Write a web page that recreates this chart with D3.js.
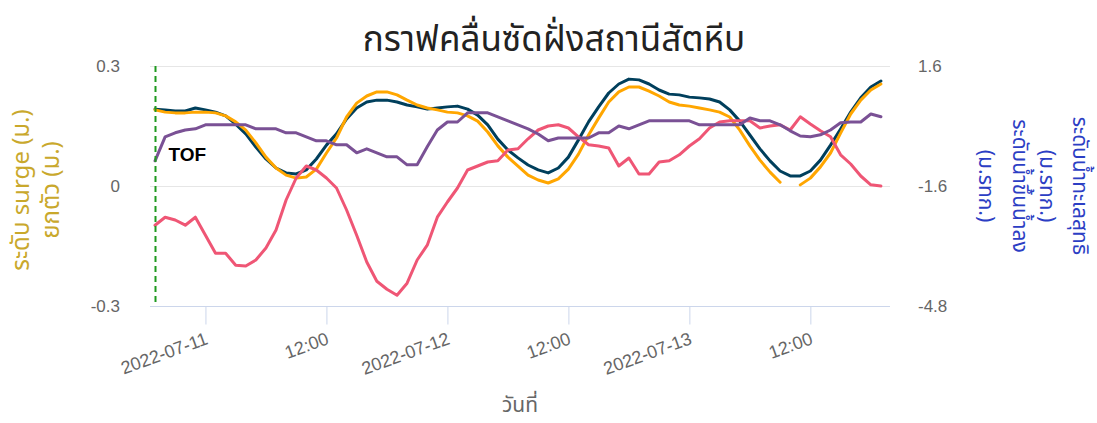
<!DOCTYPE html>
<html>
<head>
<meta charset="utf-8">
<script src="https://cdn.jsdelivr.net/npm/d3@7"></script>
<style>
  html, body { margin: 0; padding: 0; background: #ffffff; }
  svg { display: block; font-family: "Noto Sans Thai", "Noto Sans", "Open Sans", sans-serif; }
</style>
</head>
<body>
<svg id="chart" width="1097" height="423"></svg>
<script>
// Hourly observations, 2022-07-10 19:00 to 2022-07-13 19:00
const firstHour = new Date(2022, 6, 10, 19);
const lastHour = new Date(2022, 6, 13, 19);

// ระดับน้ำทะเลสุทธิ (ม.รทก.) – right axis
const netSeaLevel = [
  0.43, 0.37, 0.35, 0.35, 0.37,
  0.37, 0.35, 0.27, 0.11, -0.11,
  -0.45, -0.83, -1.12, -1.31, -1.39,
  -1.36, -1.15, -0.72, -0.32, 0.24,
  0.61, 0.80, 0.91, 0.91, 0.83,
  0.69, 0.56, 0.48, 0.43, 0.37,
  0.35, 0.27, 0.13, -0.16, -0.53,
  -0.83, -1.07, -1.31, -1.44, -1.52,
  -1.41, -1.15, -0.75, -0.24, 0.21,
  0.64, 0.91, 1.04, 1.04, 0.93,
  0.80, 0.64, 0.56, 0.53, 0.48,
  0.43, 0.37, 0.24, -0.11, -0.53,
  -0.91, -1.23, -1.50, null, -1.57,
  -1.39, -1.09, -0.72, -0.19, 0.32,
  0.69, 0.96, 1.12
];

// ระดับน้ำขึ้นน้ำลง (ม.รทก.) – right axis
const tideLevel = [
  0.45, 0.43, 0.40, 0.40, 0.48,
  0.43, 0.37, 0.27, 0.05, -0.21,
  -0.56, -0.88, -1.12, -1.25, -1.28,
  -1.17, -0.88, -0.51, -0.21, 0.19,
  0.48, 0.64, 0.69, 0.69, 0.64,
  0.56, 0.51, 0.45, 0.48, 0.51,
  0.53, 0.45, 0.29, 0.03, -0.35,
  -0.64, -0.85, -1.04, -1.17, -1.25,
  -1.12, -0.83, -0.37, 0.11, 0.51,
  0.88, 1.12, 1.25, 1.23, 1.12,
  0.96, 0.85, 0.83, 0.77, 0.75,
  0.72, 0.64, 0.43, 0.13, -0.24,
  -0.61, -0.93, -1.20, -1.33, -1.33,
  -1.20, -0.91, -0.51, -0.08, 0.37,
  0.75, 1.04, 1.20
];

// ระดับ surge (ม.) – left axis
const surgeLevel = [
  -0.098, -0.078, -0.085, -0.098, -0.078,
  -0.123, -0.168, -0.168, -0.198, -0.200,
  -0.185, -0.155, -0.110, -0.035, 0.020,
  0.050, 0.040, 0.020, -0.005, -0.060,
  -0.123, -0.190, -0.238, -0.258, -0.273,
  -0.243, -0.185, -0.148, -0.078, -0.040,
  -0.005, 0.040, 0.050, 0.060, 0.063,
  0.090, 0.093, 0.118, 0.140, 0.150,
  0.153, 0.145, 0.123, 0.103, 0.100,
  0.095, 0.050, 0.070, 0.030, 0.030,
  0.060, 0.063, 0.078, 0.100, 0.118,
  0.145, 0.160, 0.163, 0.163, 0.163,
  0.145, 0.150, 0.153, 0.140, 0.173,
  0.155, 0.138, 0.123, 0.078, 0.055,
  0.025, 0.003, 0.000
];

// ยกตัว (ม.) – left axis
const setupLevel = [
  0.063, 0.123, 0.133, 0.140, 0.143,
  0.153, 0.153, 0.153, 0.153, 0.153,
  0.143, 0.143, 0.143, 0.133, 0.133,
  0.123, 0.113, 0.113, 0.103, 0.103,
  0.083, 0.093, 0.083, 0.073, 0.073,
  0.053, 0.053, 0.098, 0.140, 0.160,
  0.160, 0.183, 0.183, 0.183, 0.173,
  0.163, 0.153, 0.143, 0.130, 0.113,
  0.120, 0.120, 0.120, 0.120, 0.133,
  0.133, 0.150, 0.143, 0.153, 0.163,
  0.163, 0.163, 0.163, 0.163, 0.153,
  0.153, 0.153, 0.153, 0.153, 0.170,
  0.163, 0.163, 0.153, 0.138, 0.125,
  0.123, 0.128, 0.140, 0.158, 0.160,
  0.160, 0.180, 0.173
];

const leftTicks = [-0.3, 0, 0.3];
const leftTickLabels = ["-0.3", "0", "0.3"];
const rightTicks = [-4.8, -1.6, 1.6];
const rightTickLabels = ["-4.8", "-1.6", "1.6"];

const titleText = "กราฟคลื่นซัดฝั่งสถานีสัตหีบ";
const xTitle = "วันที่";
const leftTitle = ["ระดับ surge (ม.)", "ยกตัว (ม.)"];
const rightTitle = ["ระดับน้ำทะเลสุทธิ", "(ม.รทก.)", "ระดับน้ำขึ้นน้ำลง", "(ม.รทก.)"];
const markerLabel = "TOF";

const times = d3.timeHour.range(firstHour, d3.timeHour.offset(lastHour, 1));

const plot = { left: 150, right: 890, top: 66, bottom: 306 };

const svg = d3.select("#chart");

const x = d3.scaleTime()
  .domain([d3.timeMinute.offset(firstHour, -30), d3.timeMinute.offset(lastHour, 54)])
  .range([plot.left, plot.right]);
const yLeft = d3.scaleLinear().domain([-0.3, 0.3]).range([plot.bottom, plot.top]);
const yRight = d3.scaleLinear().domain([-4.8, 1.6]).range([plot.bottom, plot.top]);

// grid lines
svg.append("g")
  .selectAll("line")
  .data(leftTicks.filter(d => d !== -0.3))
  .join("line")
  .attr("x1", plot.left).attr("x2", plot.right)
  .attr("y1", d => Math.round(yLeft(d)) + 0.5)
  .attr("y2", d => Math.round(yLeft(d)) + 0.5)
  .attr("stroke", "#e6e6e6").attr("stroke-width", 1);

// x axis
const xAxis = d3.axisBottom(x)
  .ticks(d3.timeHour.every(12))
  .tickSize(18)
  .tickFormat(d => d.getHours() === 0 ? d3.timeFormat("%Y-%m-%d")(d) : d3.timeFormat("%H:%M")(d));

const gx = svg.append("g")
  .attr("transform", `translate(0,${plot.bottom + 0.5})`)
  .call(xAxis);
gx.select(".domain").attr("stroke", "#ccd6eb").attr("d", `M${plot.left},0H${plot.right}`);
gx.selectAll(".tick line").attr("stroke", "#ccd6eb");
gx.selectAll(".tick text")
  .attr("fill", "#666666")
  .attr("font-size", 18)
  .attr("text-anchor", "end")
  .attr("y", 0).attr("dy", 0)
  .attr("transform", "translate(3,37) rotate(-20)");

// left axis
const gl = svg.append("g")
  .attr("transform", `translate(${plot.left},0)`)
  .call(d3.axisLeft(yLeft).tickValues(leftTicks).tickSize(0).tickPadding(30)
    .tickFormat((d, i) => leftTickLabels[i]));
gl.select(".domain").remove();
gl.selectAll(".tick text").attr("fill", "#666666").attr("font-size", 17);

// right axis
const gr = svg.append("g")
  .attr("transform", `translate(${plot.right},0)`)
  .call(d3.axisRight(yRight).tickValues(rightTicks).tickSize(0).tickPadding(28)
    .tickFormat((d, i) => rightTickLabels[i]));
gr.select(".domain").remove();
gr.selectAll(".tick text").attr("fill", "#666666").attr("font-size", 17);

// series
const rows = times.map((t, i) => ({
  t,
  net: netSeaLevel[i],
  tide: tideLevel[i],
  surge: surgeLevel[i],
  setup: setupLevel[i]
}));

const series = [
  { key: "tide", scale: yRight, color: "#003f5c" },
  { key: "net", scale: yRight, color: "#ffa600" },
  { key: "surge", scale: yLeft, color: "#ef5675" },
  { key: "setup", scale: yLeft, color: "#7a5195" }
];

const lines = svg.append("g").attr("fill", "none");
series.forEach(s => {
  const line = d3.line()
    .defined(d => d[s.key] !== null)
    .x(d => x(d.t))
    .y(d => s.scale(d[s.key]));
  lines.append("path")
    .datum(rows)
    .attr("d", line)
    .attr("stroke", s.color)
    .attr("stroke-width", 3)
    .attr("stroke-linejoin", "round")
    .attr("stroke-linecap", "round");
});

// forecast start marker
const markerX = Math.round(x(firstHour)) + 0.5;
svg.append("line")
  .attr("x1", markerX).attr("x2", markerX)
  .attr("y1", plot.top).attr("y2", plot.bottom)
  .attr("stroke", "#1f9a1f").attr("stroke-width", 2)
  .attr("stroke-dasharray", "6,4");
svg.append("text")
  .attr("x", markerX + 13).attr("y", 161)
  .attr("font-family", "Liberation Sans, Arial, sans-serif")
  .attr("font-size", 19).attr("font-weight", "bold")
  .attr("fill", "#000000")
  .text(markerLabel);

// title
svg.append("text")
  .attr("x", 554).attr("y", 51)
  .attr("text-anchor", "middle")
  .attr("font-size", 35)
  .attr("fill", "#222222")
  .text(titleText);

// x axis title
svg.append("text")
  .attr("x", (plot.left + plot.right) / 2).attr("y", 412)
  .attr("text-anchor", "middle")
  .attr("font-size", 21)
  .attr("fill", "#666666")
  .text(xTitle);

// left axis title
const lt = svg.append("text")
  .attr("transform", "translate(22,190) rotate(-90)")
  .attr("text-anchor", "middle")
  .attr("font-size", 24)
  .attr("fill", "#c9a82c");
leftTitle.forEach((s, i) => {
  lt.append("tspan").attr("x", 0).attr("y", i * 30).attr("dominant-baseline", "central").text(s);
});

// right axis title
const rt = svg.append("text")
  .attr("transform", "translate(1079,186) rotate(90)")
  .attr("text-anchor", "middle")
  .attr("font-size", 21)
  .attr("fill", "#2c3ec4");
const rightOffsets = [0, 33, 60, 94];
rightTitle.forEach((s, i) => {
  rt.append("tspan").attr("x", 0).attr("y", rightOffsets[i]).attr("dominant-baseline", "central").text(s);
});
</script>
</body>
</html>
